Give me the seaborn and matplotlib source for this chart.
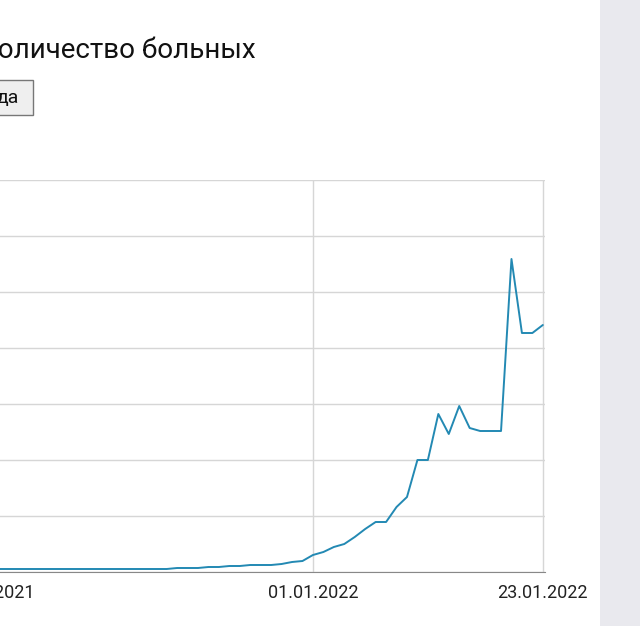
import pandas as pd
import matplotlib.pyplot as plt
import seaborn as sns
from matplotlib.patches import Rectangle

# values in grid units (one horizontal gridline = 1 unit)
dec_px = [3, 3, 3, 3, 3, 3, 3, 3, 3, 3, 3, 3, 3, 3, 3, 3, 3, 3,
          4, 4, 4, 5, 5, 6, 6, 7, 7, 7, 8, 10, 11]
jan_px = [17, 20, 25, 28, 35, 43, 50, 50, 65, 75, 112, 112, 158, 138,
          166, 144, 141, 141, 141, 313, 239, 239, 247]
values = [p / 56 for p in dec_px + jan_px]
dates = pd.date_range("2021-12-01", periods=len(values), freq="D")
tick_dates = pd.to_datetime(["2021-12-01", "2022-01-01", "2022-01-23"])
tick_labels = ["01.12.2021", "01.01.2022", "23.01.2022"]

sns.set_style("white")
plt.rcParams["font.family"] = ["Roboto", "DejaVu Sans"]
fig = plt.figure(figsize=(6.4, 6.26), dpi=100)
fig.patch.set_facecolor("white")
fig.add_artist(Rectangle((600 / 640, 0), 40 / 640, 1, transform=fig.transFigure,
                         facecolor="#e9e9ee", edgecolor="none"))

ax = fig.add_axes([-11 / 640, 54 / 626, 556 / 640, 392 / 626])
df = pd.DataFrame({"date": dates, "value": values})
sns.lineplot(data=df, x="date", y="value", ax=ax, color="#2389b3", linewidth=1.4)

ax.set_xlim(pd.Timestamp("2021-12-01"), pd.Timestamp("2022-01-23 05:00"))
ax.set_ylim(0, 7)
ax.set_yticks(range(8))
ax.set_yticklabels([])
ax.tick_params(axis="y", length=0)
ax.set_xticks(tick_dates)
ax.set_xticklabels(tick_labels, fontsize=13, color="#222222")
ax.tick_params(axis="x", length=5, color="#999999")
ax.grid(True, color="#d6d6d6", linewidth=1)
ax.set_xlabel("")
ax.set_ylabel("")
for s in ["top", "right", "left"]:
    ax.spines[s].set_visible(False)
ax.spines["bottom"].set_color("#888888")

fig.text(-20 / 640, 1 - 50 / 626, "Количество больных", fontsize=20,
         va="center", ha="left", color="#111111")
fig.add_artist(Rectangle((-5 / 640, 1 - 115 / 626), 38 / 640, 35 / 626,
                         transform=fig.transFigure, facecolor="#efefef",
                         edgecolor="#777777", linewidth=1))
fig.text(-3 / 640, 1 - 98 / 626, "да", fontsize=14, va="center", ha="left",
         color="#111111")

fig.savefig("out.png", dpi=100)
